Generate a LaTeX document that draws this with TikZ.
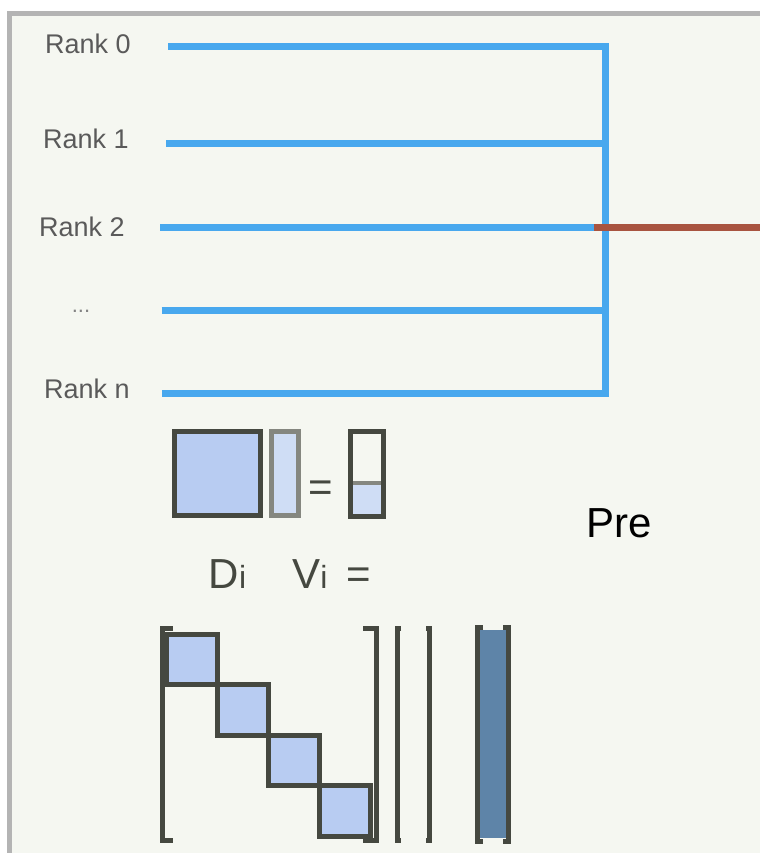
\documentclass[tikz,border=0pt]{standalone}
\usepackage{fontspec}
\setmainfont{Liberation Sans}

\definecolor{busblue}{RGB}{72,168,238}
\definecolor{outred}{RGB}{168,84,64}
\definecolor{lblgray}{RGB}{90,90,90}
\definecolor{matdark}{RGB}{69,72,64}
\definecolor{matgray}{RGB}{133,135,128}
\definecolor{blockblue}{RGB}{184,204,242}
\definecolor{vecblue}{RGB}{207,221,245}
\definecolor{steelblue}{RGB}{94,132,168}
\definecolor{paper}{RGB}{245,247,241}
\definecolor{framegray}{RGB}{180,180,180}

\begin{document}
\begin{tikzpicture}[x=0.5pt,y=-0.5pt,
  bus/.style={line width=3.25pt, draw=busblue, line join=miter},
  lbl/.style={anchor=base, text=lblgray, font=\fontsize{13.5}{16}\selectfont},
  big/.style={anchor=base, text=matdark, font=\fontsize{21}{25}\selectfont},
  mat/.style={line width=2.5pt, draw=matdark},
  brk/.style={line width=2.5pt, draw=matdark, line join=miter}]

\useasboundingbox (0,0) rectangle (760,853);
\fill[white] (0,0) rectangle (760,853);
\fill[paper] (9.5,13) rectangle (760,853);
\draw[line width=2.5pt, framegray] (9.5,853)--(9.5,13)--(760,13);

% ranks
\node[lbl] (rank0) at (88,53.3) {Rank 0};
\node[lbl] (rank1) at (86,148.3) {Rank 1};
\node[lbl] (rank2) at (82,236.7) {Rank 2};
\node[lbl, text=lblgray!75, font=\fontsize{11}{12}\selectfont] (rankdots) at (81,312) {...};
\node[lbl] (rankn) at (87,398.3) {Rank n};

\coordinate (r0) at (168,46.5);
\coordinate (r1) at (166,143.3);
\coordinate (r2) at (160,227.3);
\coordinate (rd) at (161.5,310.7);
\coordinate (rn) at (161.5,393.5);

\coordinate (b0) at (605.5,46.5);
\coordinate (b1) at (605.5,143.3);
\coordinate (b2) at (605.5,227.3);
\coordinate (bd) at (605.5,310.7);
\coordinate (bn) at (605.5,393.5);

\draw[bus] (r0)--(b0)--(bn)--(rn);
\draw[bus] (r1)--(b1);
\draw[bus] (r2)--(b2);
\draw[bus] (rd)--(bd);

\coordinate (red0) at (594,227.3);
\coordinate (red1) at (760,227.3);
\draw[line width=3.5pt, outred] (red0)--(red1);

% small product
\draw[mat, fill=blockblue] (174.5,431.5) rectangle (260,515);
\draw[line width=2.5pt, draw=matgray, fill=vecblue] (271.5,431.5) rectangle (298.5,515.5);
\node[big] (eqtop) at (321,501) {=};
\fill[vecblue] (350,482.7) rectangle (383,516);
\draw[line width=2pt, matgray] (350,482.7)--(383,482.7);
\draw[mat] (350,431.5) rectangle (383,516);

\node[big] (dlabel) at (227.5,588) {D{\fontsize{16}{16}\selectfont i}};
\node[big] (vlabel) at (310,588) {V{\fontsize{16}{16}\selectfont i}};
\node[big] (eqbot) at (359,588) {=};

\node[big, text=black] (pre) at (619.5,537) {Pre};

% block diagonal
\draw[mat, fill=blockblue] (166,634.5) rectangle (217.5,684);
\draw[mat, fill=blockblue] (217.5,684) rectangle (268.5,735);
\draw[mat, fill=blockblue] (268.5,735) rectangle (319,785);
\draw[mat, fill=blockblue] (319,785) rectangle (370,836);

\draw[brk] (173,628)--(162.5,628)--(162.5,840)--(173,840);
\draw[brk] (363,628)--(376.5,628)--(376.5,840)--(363,840);

\draw[brk] (401,628)--(397.5,628)--(397.5,840)--(401,840);
\draw[brk] (426,628)--(429.5,628)--(429.5,840)--(426,840);

\fill[steelblue] (478.3,630) rectangle (506.7,838.3);
\draw[brk] (483,627)--(477,627)--(477,841)--(483,841);
\draw[brk] (503,627)--(508.7,627)--(508.7,841)--(503,841);

\end{tikzpicture}
\end{document}
